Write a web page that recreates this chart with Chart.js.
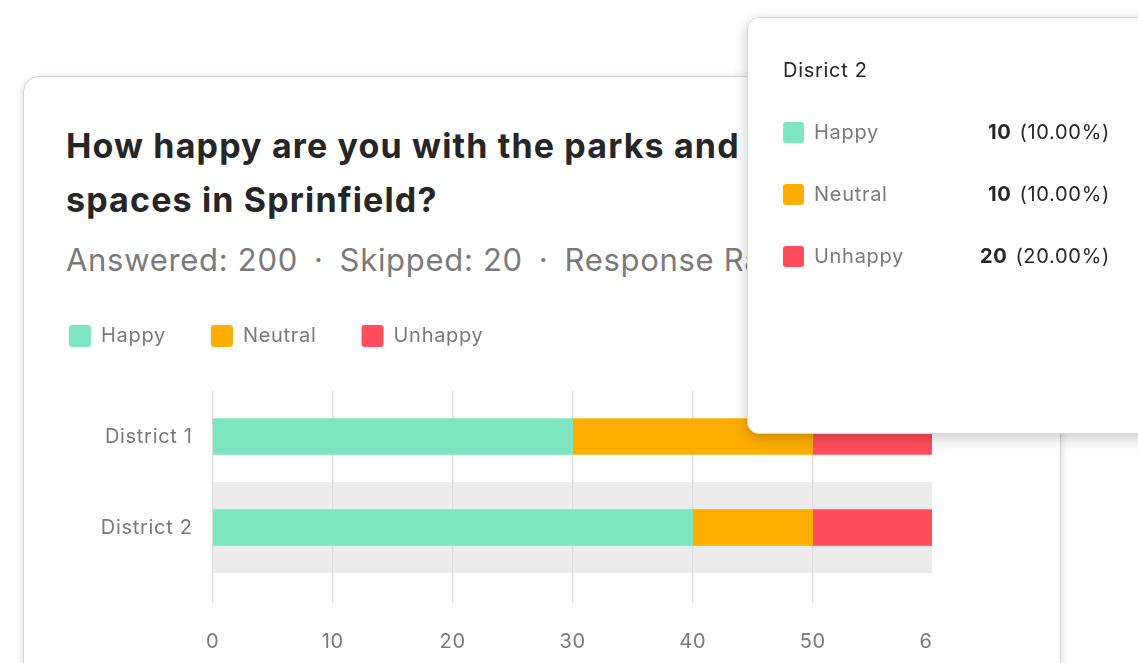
<!DOCTYPE html>
<html>
<head>
<meta charset="utf-8">
<script src="https://cdn.jsdelivr.net/npm/chart.js@4.4.1/dist/chart.umd.min.js"></script>
<style>
  html, body { margin: 0; padding: 0; background: #ffffff; width: 1138px; height: 663px; overflow: hidden; position: relative; font-family: Inter, "Noto Sans", sans-serif; }
  .card { position: absolute; left: 23px; top: 76px; width: 1036px; height: 640px; background: #fff; border: 1px solid #d4d4d4; border-radius: 16px; box-shadow: 0 2px 10px rgba(0,0,0,0.16); }
  .title { position: absolute; left: 66px; top: 119px; margin: 0; font-size: 34px; line-height: 54px; font-weight: 700; letter-spacing: 1.15px; color: #262626; white-space: nowrap; }
  .title .hid { margin-left: 10px; }
  .subtitle { position: absolute; left: 66px; top: 240px; font-size: 31px; line-height: 40px; letter-spacing: 0.7px; color: #7a7a7a; white-space: nowrap; }
  .subtitle .dot { padding: 0 16px; }
  .chartwrap { position: absolute; left: 24px; top: 280px; width: 908px; height: 383px; overflow: hidden; }
  .tip { position: absolute; left: 747px; top: 17px; width: 430px; height: 415px; background: #fff; border: 1px solid #d8d8d8; border-radius: 12px; box-shadow: 0 4px 14px rgba(0,0,0,0.22); letter-spacing: 0.7px; }
  .tip .ttl { position: absolute; left: 35px; top: 40px; font-size: 20px; line-height: 24px; color: #262626; }
  .tip .row { position: absolute; left: 35px; width: 327px; height: 24px; font-size: 20px; line-height: 24px; }
  .tip .sw { position: absolute; left: 0; top: 2px; width: 21px; height: 21px; border-radius: 3px; }
  .tip .lab { position: absolute; left: 31px; top: 0; color: #7a7a7a; }
  .tip .val { position: absolute; right: 0; top: 0; color: #262626; white-space: nowrap; }
  .tip .val b { font-weight: 700; margin-right: 8px; }
</style>
</head>
<body>
<div class="card"></div>
<div class="title">How happy are you with the parks and<span class="hid">open</span><br>spaces in Sprinfield?</div>
<div class="subtitle">Answered: 200<span class="dot">·</span>Skipped: 20<span class="dot">·</span>Response Rate: 90%</div>
<div class="chartwrap"><canvas id="c" width="949" height="401"></canvas></div>
<div class="tip" id="tip"></div>
<script>
// ---- data ----
const categories = ['District 1', 'District 2'];
const seriesNames = ['Happy', 'Neutral', 'Unhappy'];
const happyValues = [30, 40];
const neutralValues = [20, 10];
const unhappyValues = [10, 10];
const seriesColors = ['#7de5bf', '#ffad00', '#ff4d5b'];
const xTicks = [0, 10, 20, 30, 40, 50, 60];

const tooltipTitle = 'Disrict 2';
const tooltipCounts = [10, 10, 20];
const tooltipPercents = ['10.00%', '10.00%', '20.00%'];

// ---- tooltip panel (static HTML) ----
const tip = document.getElementById('tip');
let html = '<div class="ttl">' + tooltipTitle + '</div>';
seriesNames.forEach((n, i) => {
  html += '<div class="row" style="top:' + (102 + i * 62) + 'px"><span class="sw" style="background:' + seriesColors[i] + '"></span>' +
          '<span class="lab">' + n + '</span><span class="val"><b>' + tooltipCounts[i] + '</b>(' + tooltipPercents[i] + ')</span></div>';
});
tip.innerHTML = html;

// ---- plugins ----
const bandPlugin = {
  id: 'bands',
  beforeDraw(chart) {
    const {ctx, chartArea, scales} = chart;
    const y = scales.y;
    const band = chartArea.height / categories.length;
    ctx.save();
    ctx.fillStyle = '#ececec';
    categories.forEach((c, i) => {
      if (i % 2 === 1) {
        const cy = y.getPixelForValue(i);
        ctx.fillRect(chartArea.left, cy - band / 2, chartArea.right - chartArea.left, band);
      }
    });
    ctx.restore();
  }
};
const legendMargin = {
  id: 'legendMargin',
  beforeInit(chart) {
    const orig = chart.legend.fit;
    chart.legend.fit = function () { orig.bind(chart.legend)(); this.height += 34; };
  }
};
const spacing = {
  id: 'spacing',
  beforeLayout(chart) { try { chart.ctx.letterSpacing = '0.7px'; } catch (e) {} }
};

function build() {
  Chart.defaults.font.family = 'Inter';
  new Chart(document.getElementById('c'), {
    type: 'bar',
    data: {
      labels: categories,
      datasets: [
        { label: seriesNames[0], data: happyValues, backgroundColor: seriesColors[0] },
        { label: seriesNames[1], data: neutralValues, backgroundColor: seriesColors[1] },
        { label: seriesNames[2], data: unhappyValues, backgroundColor: seriesColors[2] }
      ].map(d => Object.assign(d, { borderWidth: 0, barThickness: 36 }))
    },
    options: {
      indexAxis: 'y',
      responsive: false,
      animation: false,
      layout: { padding: 0 },
      scales: {
        x: {
          stacked: true, min: xTicks[0], max: xTicks[xTicks.length - 1],
          afterBuildTicks(axis) { axis.ticks = xTicks.map(v => ({ value: v })); },
          ticks: { color: '#7a7a7a', font: { size: 20 }, padding: 27 },
          grid: { color: '#dcdcdc', lineWidth: 1.3, tickLength: 30 },
          border: { display: false }
        },
        y: {
          stacked: true,
          afterFit(axis) { axis.width = 188.7; },
          ticks: { color: '#7a7a7a', font: { size: 20 }, padding: 20 },
          grid: { display: false, drawTicks: false },
          border: { display: false }
        }
      },
      plugins: {
        legend: {
          position: 'top', align: 'start',
          labels: { boxWidth: 22, boxHeight: 22, padding: 45, useBorderRadius: true, borderRadius: 3, color: '#7a7a7a', font: { size: 20 } }
        },
        tooltip: { enabled: false }
      }
    },
    plugins: [spacing, bandPlugin, legendMargin]
  });
}
if (document.fonts && document.fonts.load) {
  Promise.all([document.fonts.load('20px Inter'), document.fonts.load('bold 34px Inter')]).then(build, build);
} else { build(); }
</script>
</body>
</html>
